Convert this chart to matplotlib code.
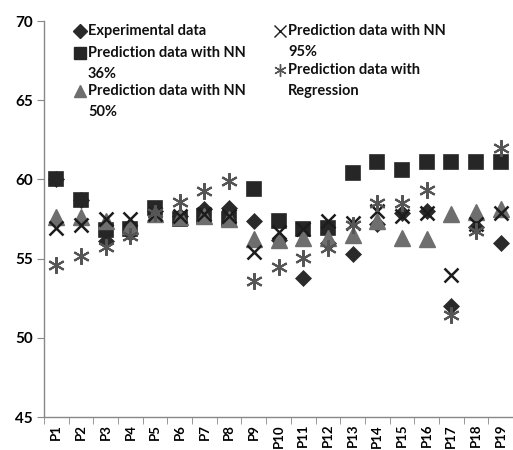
import matplotlib
matplotlib.use("Agg")
import matplotlib.pyplot as plt
import numpy as np

categories = [f"P{i}" for i in range(1, 20)]
experimental = [60.0, 58.7, 56.1, 56.6, 58.0, 57.7, 58.1, 58.2, 57.4, 56.2,
                53.8, 56.0, 55.3, 57.2, 57.9, 58.0, 52.0, 57.0, 56.0]
nn36 = [60.0, 58.7, 56.8, 56.85, 58.2, 57.5, 57.7, 57.5, 59.4, 57.4,
        56.85, 56.95, 60.4, 61.1, 60.6, 61.1, 61.1, 61.1, 61.1]
nn50 = [57.65, 57.65, 57.4, 57.05, 57.8, 57.6, 57.7, 57.5, 56.25, 56.2,
        56.3, 56.3, 56.5, 57.35, 56.3, 56.25, 57.8, 57.95, 58.1]
nn95 = [56.95, 57.1, 57.5, 57.5, 57.8, 57.7, 57.8, 57.7, 55.4, 56.7,
        56.9, 57.35, 57.25, 58.0, 57.7, 57.85, 53.95, 57.2, 57.9]
regression = [54.6, 55.15, 55.75, 56.45, 57.9, 58.6, 59.25, 59.9, 53.6, 54.45,
              55.05, 55.7, 57.1, 58.5, 58.5, 59.35, 51.45, 56.75, 62.0]
legend_labels = ["Experimental data", "Prediction data with NN\n36%",
                 "Prediction data with NN\n50%", "Prediction data with NN\n95%",
                 "Prediction data with\nRegression"]

FONT = "Lato"
plt.rcParams['font.family'] = [FONT, 'DejaVu Sans']

fig = plt.figure(figsize=(5.13, 4.5), dpi=100)
ax = fig.add_axes([44/513, 1-417/450, 1-44/513, (417-21)/450])

x = np.arange(len(categories))
styles = [
    dict(marker='D', ms=7.8, color='#2a2a2a', mec='#2a2a2a', mew=0.5),
    dict(marker='s', ms=10.5, color='#262626', mec='#262626', mew=1.2),
    dict(marker='^', ms=11, color='#6e6e6e', mec='#6e6e6e'),
    dict(marker='x', ms=10, color='#1c1c1c', mec='#1c1c1c', mew=1.8),
    dict(marker=(6, 2, 0), ms=12, color='#555555', mec='#555555', mew=1.5),
]
series = [experimental, nn36, nn50, nn95, regression]
for vals, st in zip(series, styles):
    ax.plot(x, vals, ls='none', **st)

ax.set_xlim(-0.5, len(categories) - 0.5)
ax.set_ylim(45, 70)
ax.set_yticks([45, 50, 55, 60, 65, 70])
ax.set_xticks(x)
ax.set_xticklabels(categories, rotation=90, fontweight='bold', fontsize=9.5)
ax.set_xticks(np.arange(-0.5, len(categories)), minor=True)
ax.tick_params(axis='x', which='major', length=0, pad=5)
ax.tick_params(axis='x', which='minor', length=5, color='#888888', direction='out')
ax.tick_params(axis='y', length=5, color='#888888', direction='out', pad=3)
for lab in ax.get_yticklabels():
    lab.set_fontweight('bold')
    lab.set_fontsize(11)
for s in ['top', 'right']:
    ax.spines[s].set_visible(False)
for s in ['left', 'bottom']:
    ax.spines[s].set_color('#888888')
    ax.spines[s].set_linewidth(1)

# manual legend (pixel positions converted to figure fraction)
W, H = 513, 450
leg_pos = [(80, 31, 88, 31), (80, 53, 88, 53), (80, 91, 88, 91),
           (280, 31, 288, 31), (280, 70, 288, 70)]
leg_sizes = [7, 8, 8.5, 8, 9]
for (mx, my, tx, ty), st, lab, sz in zip(leg_pos, styles, legend_labels, leg_sizes):
    st2 = dict(st)
    st2['ms'] = sz
    if 'mew' in st2:
        st2['mew'] = 1.0
    fig.add_artist(plt.Line2D([mx / W], [1 - my / H], transform=fig.transFigure, ls='none', **st2))
    fig.text(tx / W, 1 - ty / H + 7 / H, lab, ha='left', va='top', fontsize=10.5,
             fontweight='bold', linespacing=1.6, color='#111111')

fig.savefig("out.png", dpi=100)
